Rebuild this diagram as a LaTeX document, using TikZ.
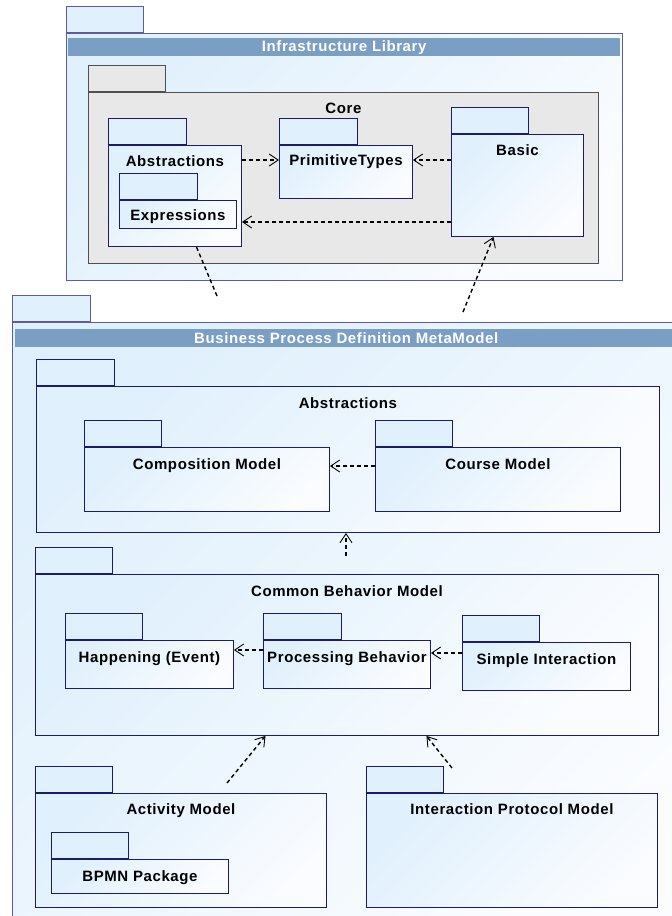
\documentclass[tikz,border=0pt]{standalone}
\usepackage{fontspec}
\setmainfont{Liberation Sans}[LetterSpace=4]
\usetikzlibrary{arrows.meta}

\definecolor{pkgedge}{HTML}{1C1C6A}
\definecolor{outeredge}{HTML}{5C5CA0}
\definecolor{tabfill}{HTML}{E0F0FC}
\definecolor{bodyfill}{HTML}{E0F0FC}
\definecolor{bodylight}{HTML}{FAFCFF}
\definecolor{corefill}{HTML}{E8E8E8}
\definecolor{coreedge}{HTML}{505050}
\definecolor{titlefill}{HTML}{7B9EC4}

\tikzset{
  pkgbody/.style={draw=pkgedge, line width=0.9pt, anchor=north west, inner sep=0pt,
    top color=bodyfill, bottom color=bodylight, shading angle=45},
  outerbody/.style={pkgbody, draw=outeredge},
  corebody/.style={draw=coreedge, line width=0.9pt, anchor=north west, inner sep=0pt, fill=corefill},
  pkgtab/.style={draw=pkgedge, line width=0.9pt, fill=tabfill, anchor=south west, inner sep=0pt,
    minimum width=78pt, minimum height=26pt},
  outertab/.style={pkgtab, draw=outeredge},
  coretab/.style={pkgtab, draw=coreedge, fill=corefill},
  titlebar/.style={fill=titlefill, anchor=north west, inner sep=0pt, minimum height=18pt},
  titletext/.style={text=white, font=\bfseries\fontsize{15}{17}\selectfont, inner sep=0pt},
  pkgname/.style={font=\bfseries\fontsize{15}{17}\selectfont, inner sep=0pt, anchor=base},
  dep/.style={draw, dash pattern=on 4pt off 3pt, line width=1.4pt,
    -{Straight Barb[length=9pt, width=12pt, line width=0.9pt]}},
  deponly/.style={draw, dash pattern=on 4pt off 3pt, line width=1.4pt}
}

\begin{document}
\begin{tikzpicture}[x=1pt, y=-1pt]
    \useasboundingbox (0,0) rectangle (672,916);
    \clip (0,0) rectangle (672,916);

    % infrastructure library
    \node[outerbody, minimum width=556pt, minimum height=247pt] (infra) at (66,33) {};
    \node[outertab, minimum width=77pt] (infratab) at (infra.north west) {};
    \node[titlebar, minimum width=552pt] (infrabar) at (68,38) {};
    \node[titletext] (infraname) at (infrabar.center) {Infrastructure Library};

    \node[corebody, minimum width=510pt, minimum height=171pt] (core) at (88,92) {};
    \node[coretab, minimum width=77pt] (coretab) at (core.north west) {};
    \node[pkgname] (corename) at ([yshift=-21.5pt]core.north) {Core};

    \node[pkgbody, minimum width=133pt, minimum height=101pt] (abs) at (108,145) {};
    \node[pkgtab] (abstab) at (abs.north west) {};
    \node[pkgname] (absname) at ([yshift=-21.5pt]abs.north) {Abstractions};

    \node[pkgbody, minimum width=117pt, minimum height=28pt] (expr) at (119,200) {};
    \node[pkgtab] (exprtab) at (expr.north west) {};
    \node[pkgname] (exprname) at ([yshift=-20.5pt]expr.north) {Expressions};

    \node[pkgbody, minimum width=133pt, minimum height=53pt] (prim) at (279,145) {};
    \node[pkgtab] (primtab) at (prim.north west) {};
    \node[pkgname] (primname) at ([yshift=-20.5pt]prim.north) {PrimitiveTypes};

    \node[pkgbody, minimum width=132pt, minimum height=102pt] (basic) at (451,134) {};
    \node[pkgtab, minimum width=77pt] (basictab) at (basic.north west) {};
    \node[pkgname] (basicname) at ([yshift=-21.5pt]basic.north) {Basic};

    \draw[dep] (abs.east |- 0,160) -- (prim.west |- 0,160);
    \draw[dep] (basic.west |- 0,160) -- (prim.east |- 0,160);
    \draw[dep] (basic.west |- 0,222) -- (abs.east |- 0,222);

    % business process definition metamodel
    \node[outerbody, minimum width=668pt, minimum height=620pt] (bpdm) at (12,322) {};
    \node[outertab] (bpdmtab) at (bpdm.north west) {};
    \node[titlebar, minimum width=662pt] (bpdmbar) at (15,329) {};
    \node[titletext] (bpdmname) at (bpdmbar.center) {Business Process Definition MetaModel};

    \coordinate (infrause) at (217,296);
    \coordinate (basicuse) at (463,312);
    \draw[deponly] (infrause) -- ([xshift=21.5pt]abs.south);
    \draw[dep] (basicuse) -- ([xshift=-24pt]basic.south);

    \node[pkgbody, minimum width=623pt, minimum height=146pt] (babs) at (36,386) {};
    \node[pkgtab] (babstab) at (babs.north west) {};
    \node[pkgname] (babsname) at ([yshift=-22pt]babs.north) {Abstractions};

    \node[pkgbody, minimum width=245pt, minimum height=64pt] (comp) at (84,447) {};
    \node[pkgtab, minimum width=77pt] (comptab) at (comp.north west) {};
    \node[pkgname] (compname) at ([yshift=-22.5pt]comp.north) {Composition Model};

    \node[pkgbody, minimum width=245pt, minimum height=64pt] (course) at (375,447) {};
    \node[pkgtab, minimum width=77pt] (coursetab) at (course.north west) {};
    \node[pkgname] (coursename) at ([yshift=-22.5pt]course.north) {Course Model};

    \draw[dep] (course.west |- 0,466) -- (comp.east |- 0,466);

    \node[pkgbody, minimum width=623pt, minimum height=161pt] (cbm) at (35,574) {};
    \node[pkgtab, minimum width=77pt] (cbmtab) at (cbm.north west) {};
    \node[pkgname] (cbmname) at ([yshift=-22pt]cbm.north) {Common Behavior Model};

    \coordinate (cbmuse) at (346,556);
    \draw[dep] (cbmuse) -- (babs.south -| cbmuse);

    \node[pkgbody, minimum width=168pt, minimum height=48pt] (happ) at (65,640) {};
    \node[pkgtab, minimum width=77pt] (happtab) at (happ.north west) {};
    \node[pkgname] (happname) at ([yshift=-22.5pt]happ.north) {Happening (Event)};

    \node[pkgbody, minimum width=167pt, minimum height=48pt] (proc) at (263,640) {};
    \node[pkgtab] (proctab) at (proc.north west) {};
    \node[pkgname] (procname) at ([yshift=-22.5pt]proc.north) {Processing Behavior};

    \node[pkgbody, minimum width=168pt, minimum height=48pt] (simple) at (462,642) {};
    \node[pkgtab, minimum width=77pt] (simpletab) at (simple.north west) {};
    \node[pkgname] (simplename) at ([yshift=-22.5pt]simple.north) {Simple Interaction};

    \draw[dep] (proc.west |- 0,650) -- (happ.east |- 0,650);
    \draw[dep] (simple.west |- 0,653) -- (proc.east |- 0,653);

    \node[pkgbody, minimum width=291pt, minimum height=114pt] (act) at (35,793) {};
    \node[pkgtab, minimum width=77pt] (acttab) at (act.north west) {};
    \node[pkgname] (actname) at ([yshift=-21.5pt]act.north) {Activity Model};

    \node[pkgbody, minimum width=177pt, minimum height=34pt] (bpmn) at (51,859) {};
    \node[pkgtab, minimum width=77pt] (bpmntab) at (bpmn.north west) {};
    \node[pkgname] (bpmnname) at ([yshift=-22.5pt]bpmn.north) {BPMN Package};

    \node[pkgbody, minimum width=291pt, minimum height=114pt] (ipm) at (366,793) {};
    \node[pkgtab, minimum width=77pt] (ipmtab) at (ipm.north west) {};
    \node[pkgname] (ipmname) at ([yshift=-21.5pt]ipm.north) {Interaction Protocol Model};

    \coordinate (actuse) at (227,783);
    \coordinate (ipmuse) at (452,768);
    \draw[dep] (actuse) -- ([xshift=-81.5pt]cbm.south);
    \draw[dep] (ipmuse) -- ([xshift=79.5pt]cbm.south);
\end{tikzpicture}
\end{document}
